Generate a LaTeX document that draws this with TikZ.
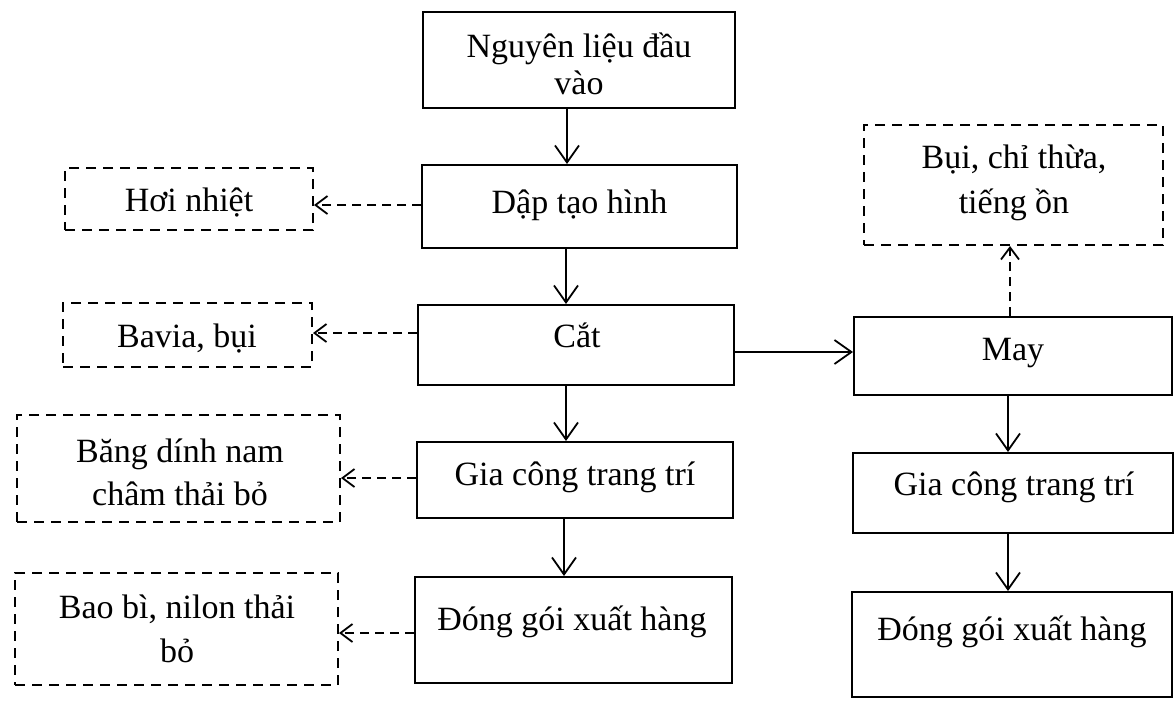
\documentclass[tikz,border=0pt]{standalone}
\usepackage{fontspec}
\setmainfont{Liberation Serif}
\usetikzlibrary{arrows.meta}
\begin{document}
\begin{tikzpicture}[x=1pt,y=-1pt,
  box/.style={draw, line width=2pt, inner sep=0pt},
  dbox/.style={draw, line width=2pt, inner sep=0pt, dash pattern=on 10pt off 7pt},
  txt/.style={anchor=base, inner sep=0pt, align=center, font=\fontsize{34}{44}\selectfont},
  arr/.style={line width=1.8pt, -{Straight Barb[length=17pt,width=24pt]}},
  darr/.style={line width=1.8pt, dash pattern=on 9pt off 6pt, -{Straight Barb[length=12pt,width=18pt]}}]
\useasboundingbox (0,0) rectangle (1176,702);
% main column
\node[box, minimum width=312pt, minimum height=96pt] (b1) at (579,60) {};
\node[box, minimum width=315pt, minimum height=83pt] (b2) at (579.5,206.5) {};
\node[box, minimum width=316pt, minimum height=80pt] (b3) at (576,345) {};
\node[box, minimum width=316pt, minimum height=76pt] (b4) at (575,480) {};
\node[box, minimum width=317pt, minimum height=106pt] (b5) at (573.5,630) {};
\node[txt, font=\fontsize{34}{37}\selectfont] (t1) at (579,94) {Nguyên liệu đầu\\vào};
\node[txt] (t2) at (579.5,213) {Dập tạo hình};
\node[txt] (t3) at (577,347) {Cắt};
\node[txt] (t4) at (575,485) {Gia công trang trí};
\node[txt] (t5) at (572,630) {Đóng gói xuất hàng};
% right column
\node[box, minimum width=318pt, minimum height=78pt] (r1) at (1013,356) {};
\node[box, minimum width=320pt, minimum height=80pt] (r2) at (1013,493) {};
\node[box, minimum width=320pt, minimum height=105pt] (r3) at (1012,644.5) {};
\node[txt] (rt1) at (1013,360) {May};
\node[txt] (rt2) at (1014,495) {Gia công trang trí};
\node[txt] (rt3) at (1012,640) {Đóng gói xuất hàng};
% dashed boxes
\node[dbox, minimum width=299pt, minimum height=120pt] (d0) at (1013.5,185) {};
\node[dbox, minimum width=248pt, minimum height=62pt] (d1) at (189,199) {};
\node[dbox, minimum width=249pt, minimum height=64pt] (d2) at (187.5,335) {};
\node[dbox, minimum width=323pt, minimum height=107pt] (d3) at (178.5,468.5) {};
\node[dbox, minimum width=323pt, minimum height=112pt] (d4) at (176.5,629) {};
\node[txt, font=\fontsize{34}{45}\selectfont] (dt0) at (1014,213) {Bụi, chỉ thừa,\\tiếng ồn};
\node[txt] (dt1) at (189,211) {Hơi nhiệt};
\node[txt] (dt2) at (187,347) {Bavia, bụi};
\node[txt, font=\fontsize{34}{43}\selectfont] (dt3) at (180,505) {Băng dính nam\\châm thải bỏ};
\node[txt] (dt4) at (177,662) {Bao bì, nilon thải\\bỏ};
% solid connectors
\draw[arr] (b1.south -| 567,0) -- (b2.north -| 567,0);
\draw[arr] (b2.south -| 566,0) -- (b3.north -| 566,0);
\draw[arr] (b3.south -| 566,0) -- (b4.north -| 566,0);
\draw[arr] (b4.south -| 564,0) -- (b5.north -| 564,0);
\draw[arr] (b3.east |- 0,352) -- (r1.west |- 0,352);
\draw[arr] (r1.south -| 1008,0) -- (r2.north -| 1008,0);
\draw[arr] (r2.south -| 1008,0) -- (r3.north -| 1008,0);
% dashed connectors
\draw[darr] (r1.north -| 1010,0) -- (d0.south -| 1010,0);
\draw[darr] (b2.west |- 0,205) -- (d1.east |- 0,205);
\draw[darr] (b3.west |- 0,333) -- (d2.east |- 0,333);
\draw[darr] (b4.west |- 0,478) -- (d3.east |- 0,478);
\draw[darr] (b5.west |- 0,633) -- (d4.east |- 0,633);
\end{tikzpicture}
\end{document}
